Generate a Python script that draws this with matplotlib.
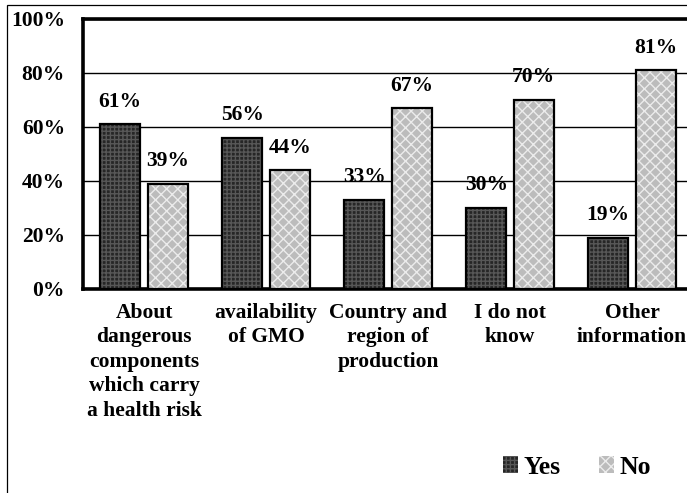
import matplotlib
matplotlib.use("Agg")
import matplotlib.pyplot as plt
from matplotlib.patches import Rectangle, Patch
import numpy as np

categories = [
    "About\ndangerous\ncomponents\nwhich carry\na health risk",
    "availability\nof GMO",
    "Country and\nregion of\nproduction",
    "I do not\nknow",
    "Other\ninformation",
]
yes_values = [61, 56, 33, 30, 19]
no_values = [39, 44, 67, 70, 81]
series_names = ["Yes", "No"]
y_ticks = [0, 20, 40, 60, 80, 100]

plt.rcParams["font.family"] = ["Liberation Serif", "DejaVu Serif"]
plt.rcParams["font.weight"] = "bold"
plt.rcParams["hatch.linewidth"] = 1.0

W, H = 687, 493
fig = plt.figure(figsize=(W / 100, H / 100), dpi=100)

# outer chart frame (only top and left edges fall inside the canvas)
fig.add_artist(Rectangle((7 / W, -0.1), 1.2, 1.1 - 5 / H,
                         transform=fig.transFigure, fill=False,
                         edgecolor="black", linewidth=0.9))

ax = fig.add_axes([83 / W, (H - 289) / H, 610 / W, 270 / H])

x = np.arange(len(categories))
width = 0.33
off = 0.195

styles = {
    "Yes": dict(face="#262626", hatch="++++", hcol="#575757"),
    "No": dict(face="#bcbcbc", hatch="xxx", hcol="#ececec"),
}

for name, vals, sign in (("Yes", yes_values, -1), ("No", no_values, 1)):
    st = styles[name]
    pos = x + sign * off
    ax.bar(pos, vals, width, color=st["face"], hatch=st["hatch"],
           edgecolor=st["hcol"], linewidth=0, zorder=3)
    ax.bar(pos, vals, width, fill=False, edgecolor="black",
           linewidth=1.6, zorder=4)
    for px, v in zip(pos, vals):
        ax.annotate(f"{v}%", (px, v), xytext=(0, 9), textcoords="offset points",
                    ha="center", va="bottom", fontsize=15.5, fontweight="bold",
                    zorder=5)

ax.set_xlim(-0.5, len(categories) - 0.5)
ax.set_ylim(0, 100)
ax.set_yticks(y_ticks)
ax.set_yticklabels([f"{t}%" for t in y_ticks], fontsize=15.5, fontweight="bold")
ax.set_xticks(x)
ax.set_xticklabels(categories, fontsize=15.5, fontweight="bold", linespacing=1.3)
ax.tick_params(axis="both", length=0)
ax.tick_params(axis="y", pad=13)
ax.tick_params(axis="x", pad=10)

ax.yaxis.grid(True, color="black", linewidth=1.0, zorder=0)
ax.set_axisbelow(True)
for s in ("left", "top", "bottom"):
    ax.spines[s].set_linewidth(2.6)
ax.spines["right"].set_visible(False)

handles = [
    Patch(facecolor=styles[n]["face"], hatch=styles[n]["hatch"],
          edgecolor=styles[n]["hcol"], linewidth=0) for n in series_names
]
fig.legend(handles, series_names, loc="center",
           bbox_to_anchor=(577 / W, 26 / H), ncol=2, frameon=False,
           handlelength=0.6, handleheight=0.6, handletextpad=0.2,
           columnspacing=1.5, prop={"size": 18.5, "weight": "bold"})

fig.savefig("out.png", dpi=100)
